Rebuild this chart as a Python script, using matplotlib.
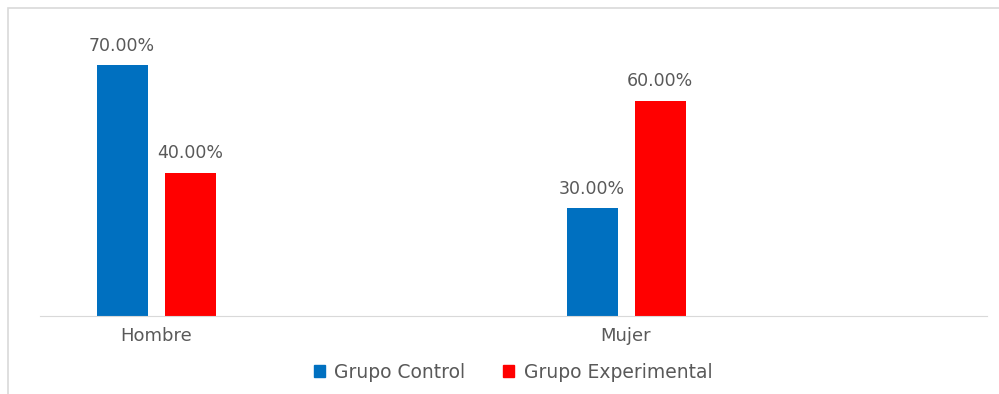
import numpy as np
import matplotlib.pyplot as plt
from matplotlib.patches import Patch, Rectangle

categories = ["Hombre", "Mujer"]
series_names = ["Grupo Control", "Grupo Experimental"]
control = [70.0, 30.0]
experimental = [40.0, 60.0]
colors = ["#0070C0", "#FF0000"]
text_color = "#595959"

W, H = 999, 394
fig = plt.figure(figsize=(W / 100, H / 100), dpi=100)

# axes placed in pixel terms: baseline at y=316, axis line from x=40 to 987
ax_left, ax_right, ax_bottom, ax_top = 40, 987, 316, 20
ax = fig.add_axes([ax_left / W, (H - ax_bottom) / H,
                   (ax_right - ax_left) / W, (ax_bottom - ax_top) / H])

x = np.arange(len(categories))
px_per_unit = 470.0
bar_w = 51 / px_per_unit
offset = 34 / px_per_unit

for vals, dx, c, name in [(control, -offset, colors[0], series_names[0]),
                          (experimental, offset, colors[1], series_names[1])]:
    bars = ax.bar(x + dx, vals, width=bar_w, color=c, label=name)
    for b, v in zip(bars, vals):
        ax.annotate(f"{v:.2f}%", (b.get_x() + b.get_width() / 2, v),
                    xytext=(0, 7.5), textcoords="offset points",
                    ha="center", va="bottom", fontsize=12.5, color=text_color)

ax.set_xlim((ax_left - 156) / px_per_unit, (ax_right - 156) / px_per_unit)
ax.set_ylim(0, (ax_bottom - ax_top) / 3.586)

for s in ["top", "right", "left"]:
    ax.spines[s].set_visible(False)
ax.spines["bottom"].set_color("#d9d9d9")
ax.set_yticks([])
ax.set_xticks(x)
ax.set_xticklabels(categories, fontsize=13, color=text_color)
ax.tick_params(axis="x", length=0, pad=8)

handles = [Patch(color=c) for c in colors]
fig.legend(handles, series_names, loc="center", bbox_to_anchor=(513 / W, (H - 372) / H),
           ncol=2, frameon=False, fontsize=13.5, handlelength=0.6, handleheight=0.6,
           handletextpad=0.5, columnspacing=2.0, labelcolor=text_color)

# light outer border (top and left edges visible)
fig.patches.append(Rectangle((8 / W, -0.1), 1.2, (H - 8) / H + 0.1,
                             transform=fig.transFigure, fill=False,
                             edgecolor="#d9d9d9", linewidth=1.2))

fig.savefig("out.png", dpi=100)
